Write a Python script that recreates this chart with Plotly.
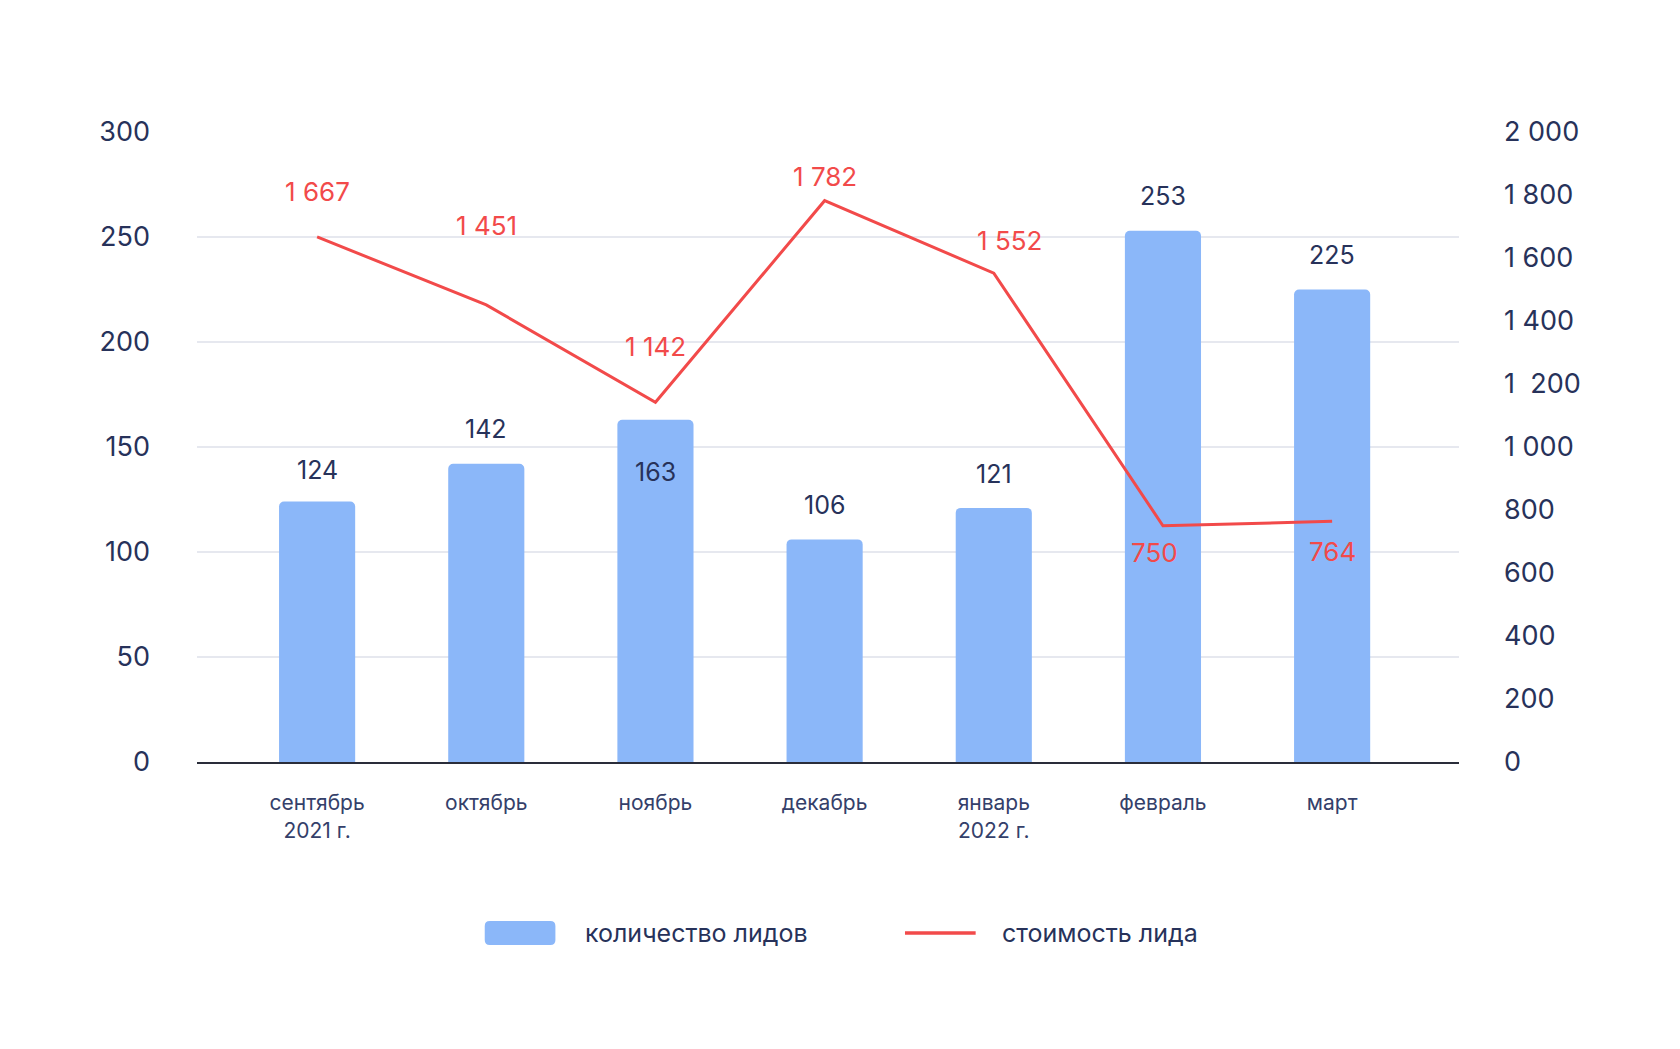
import plotly.graph_objects as go

months = ["сентябрь<br>2021 г.", "октябрь", "ноябрь", "декабрь", "январь<br>2022 г.", "февраль", "март"]
leads = [124, 142, 163, 106, 121, 253, 225]
cost = [1667, 1451, 1142, 1782, 1552, 750, 764]
left_ticks = [0, 50, 100, 150, 200, 250, 300]
right_ticks = [0, 200, 400, 600, 800, 1000, 1200, 1400, 1600, 1800, 2000]
right_ticktext = ["0", "200", "400", "600", "800", "1 000", "1\u00a0\u00a0200", "1 400", "1 600", "1 800", "2 000"]

# label offsets (pixels) – styling only
bar_label_shift = [32, 35, -52, 34, 34, 35, 35]
cost_label_yshift = [45, 79, 56, 24, 33, -27, -30]
cost_label_xshift = [0, 0, 0, 0, 16, -8, 0]

FONT = "Inter"
NAVY = "#27325A"
BLUE = "#8BB7F9"
RED = "#F24A4A"

fig = go.Figure()
fig.add_trace(go.Bar(x=months, y=leads, marker=dict(color=BLUE, line=dict(width=0)),
                     name="количество лидов", yaxis="y"))
fig.add_trace(go.Scatter(x=months, y=cost, mode="lines", line=dict(color=RED, width=3),
                         name="стоимость лида", yaxis="y2"))

def fmt(v):
    return f"{v:,}".replace(",", " ")

for m, v, s in zip(months, leads, bar_label_shift):
    fig.add_annotation(x=m, y=v, xref="x", yref="y", text=str(v), showarrow=False,
                       yshift=s, yanchor="middle", font=dict(family=FONT, size=25, color=NAVY))
for m, v, s, xs in zip(months, cost, cost_label_yshift, cost_label_xshift):
    fig.add_annotation(x=m, y=v, xref="x", yref="y2", text=fmt(v), showarrow=False,
                       yshift=s, xshift=xs, yanchor="middle", font=dict(family=FONT, size=26, color=RED))

# custom legend
ly = -0.2714
rx, ry = 0.004, 0.008
x0, x1, y0, y1 = 0.228, 0.284, ly - 0.019, ly + 0.019
path = (f"M{x0+rx},{y0} L{x1-rx},{y0} Q{x1},{y0} {x1},{y0+ry} L{x1},{y1-ry} Q{x1},{y1} {x1-rx},{y1} "
        f"L{x0+rx},{y1} Q{x0},{y1} {x0},{y1-ry} L{x0},{y0+ry} Q{x0},{y0} {x0+rx},{y0} Z")
fig.add_shape(type="path", path=path, xref="paper", yref="paper", fillcolor=BLUE, line=dict(width=0))
fig.add_shape(type="line", x0=0.561, x1=0.617, y0=ly, y1=ly, xref="paper", yref="paper",
              line=dict(color=RED, width=3.5))
fig.add_annotation(x=0.306, y=ly, xref="paper", yref="paper", text="количество лидов",
                   showarrow=False, xanchor="left", yanchor="middle",
                   font=dict(family=FONT, size=25, color=NAVY))
fig.add_annotation(x=0.636, y=ly, xref="paper", yref="paper", text="стоимость лида",
                   showarrow=False, xanchor="left", yanchor="middle",
                   font=dict(family=FONT, size=25, color=NAVY))

fig.update_layout(
    width=1680, height=1049,
    margin=dict(l=189, r=229, t=124, b=295),
    paper_bgcolor="white", plot_bgcolor="white",
    showlegend=False,
    bargap=0.55,
    barcornerradius=5,
    font=dict(family=FONT, color=NAVY),
    xaxis=dict(type="category", range=[-0.71, 6.75], showgrid=False, showline=True,
               linecolor="#2A2D3A", linewidth=2, ticks="", ticklabelstandoff=21,
               tickfont=dict(family=FONT, size=21, color="#34406A"), zeroline=False),
    yaxis=dict(range=[0, 300], tickvals=left_ticks, showgrid=True, gridcolor="#E6E8EF",
               gridwidth=1.5, zeroline=False, showline=False, ticks="", ticklabelstandoff=46,
               tickfont=dict(family=FONT, size=27, color=NAVY)),
    yaxis2=dict(range=[0, 2000], tickvals=right_ticks, ticktext=right_ticktext, overlaying="y",
                side="right", showgrid=False, zeroline=False, showline=False, ticks="",
                ticklabelstandoff=44, tickfont=dict(family=FONT, size=27, color=NAVY)),
)

fig.write_html("out.html")
